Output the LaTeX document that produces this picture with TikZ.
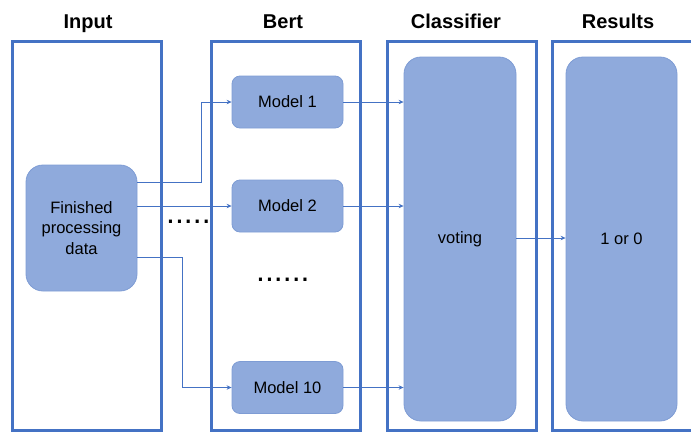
\documentclass[tikz,border=0pt]{standalone}
\usepackage{fontspec}
\setmainfont{Liberation Sans}
\usetikzlibrary{arrows.meta}
\definecolor{frameblue}{HTML}{4472C4}
\definecolor{boxfill}{HTML}{8FAADC}
\definecolor{boxline}{HTML}{7E9CD4}
\tikzset{
  frame/.style={draw=frameblue, line width=3pt},
  title/.style={font=\fontsize{20}{24}\selectfont\bfseries, anchor=base},
  blk/.style={draw=boxline, fill=boxfill, line width=0.8pt, align=center,
    font=\fontsize{16.5}{20.5}\selectfont, inner sep=0pt},
  mdl/.style={blk, rounded corners=8pt, minimum width=111pt, minimum height=52pt},
  big/.style={blk, rounded corners=17pt},
  arr/.style={draw=frameblue, line width=1pt, -{Stealth[length=5pt,width=4.5pt]}},
  dotsrow/.style={font=\fontsize{32}{32}\selectfont, anchor=base west, inner sep=0pt}
}
\begin{document}
\begin{tikzpicture}[x=1pt,y=-1pt]
\useasboundingbox (0,0) rectangle (691,432);
\begin{scope}
\clip (0,0) rectangle (691,432);
% frames
\draw[frame] (12,41) rectangle (161,430);
\draw[frame] (211,41) rectangle (360,430);
\draw[frame] (387,41) rectangle (536,430);
\draw[frame] (552,41) rectangle (705,430);
\end{scope}
% titles
\node[title] (tin) at (88,28) {Input};
\node[title] (tbert) at (283,28) {Bert};
\node[title] (tcls) at (456,28) {Classifier};
\node[title] (tres) at (618,28) {Results};
% boxes
\node[big, minimum width=111pt, minimum height=126pt] (fin) at (81.5,228) {Finished\\processing\\data};
\node[mdl] (m1) at (287.5,102) {Model 1};
\node[mdl] (m2) at (287.5,206) {Model 2};
\node[mdl] (m10) at (287.5,387.5) {Model 10};
\node[big, minimum width=112pt, minimum height=364pt] (vote) at (460,239) {voting};
\node[big, minimum width=111pt, minimum height=364pt] (res) at (621.5,239) {1 or 0};
% dots
\node[dotsrow] (d1) at (166,223.5) {.....};
\node[dotsrow] (d2) at (256,281.5) {......};
% arrows
\draw[arr] ([yshift=46pt]fin.east) -- ++(64,0) |- (m1.west);
\draw[arr] (fin.east |- m2.west) -- (m2.west);
\draw[arr] ([yshift=-29pt]fin.east) -- ++(45,0) |- (m10.west);
\draw[arr] (m1.east) -- (m1.east -| vote.west);
\draw[arr] (m2.east) -- (m2.east -| vote.west);
\draw[arr] (m10.east) -- (m10.east -| vote.west);
\draw[arr] ([yshift=1pt]vote.east) -- ([yshift=1pt]res.west);
\end{tikzpicture}
\end{document}
